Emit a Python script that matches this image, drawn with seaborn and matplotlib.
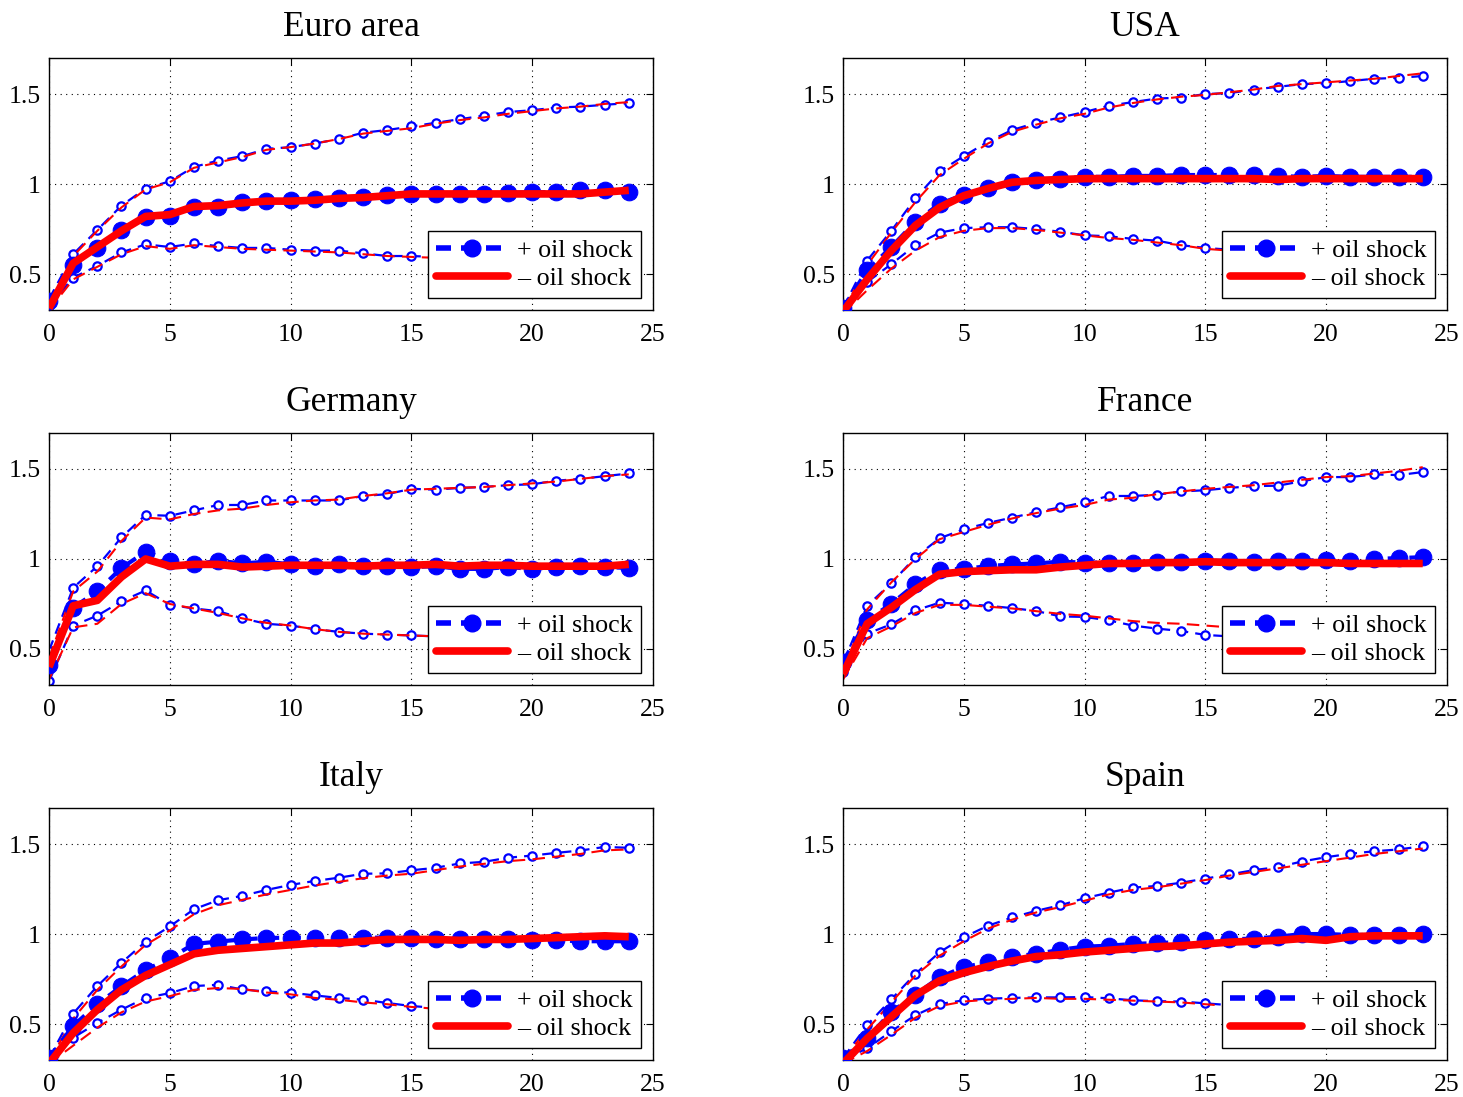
import numpy as np
import pandas as pd
import matplotlib
matplotlib.use("Agg")
import matplotlib.pyplot as plt
from matplotlib.lines import Line2D
import seaborn as sns

# ---------------- data ----------------
HORIZON = list(range(25))
TITLES = ["Euro area", "USA", "Germany", "France", "Italy", "Spain"]
LEGEND_LABELS = ["+ oil shock", "\u2013 oil shock"]
XTICKS = [0, 5, 10, 15, 20, 25]
YTICKS = [0.5, 1.0, 1.5]
YTICKLABELS = ["0.5", "1", "1.5"]

# Euro area
EA_POS_MED = [0.35, 0.55, 0.645, 0.745, 0.815, 0.825, 0.875, 0.875, 0.90, 0.905, 0.91, 0.915, 0.925, 0.93, 0.94,
              0.945, 0.945, 0.945, 0.945, 0.95, 0.955, 0.955, 0.965, 0.965, 0.955]
EA_NEG_MED = [0.31, 0.56, 0.65, 0.74, 0.82, 0.83, 0.875, 0.88, 0.895, 0.905, 0.905, 0.91, 0.92, 0.925, 0.935,
              0.945, 0.945, 0.945, 0.945, 0.945, 0.945, 0.945, 0.945, 0.955, 0.965]
EA_POS_UP = [0.36, 0.61, 0.745, 0.88, 0.975, 1.015, 1.095, 1.13, 1.155, 1.195, 1.205, 1.225, 1.25, 1.285, 1.30,
             1.32, 1.34, 1.36, 1.38, 1.40, 1.41, 1.425, 1.43, 1.44, 1.45]
EA_NEG_UP = [0.33, 0.60, 0.74, 0.87, 0.97, 1.01, 1.09, 1.12, 1.15, 1.19, 1.205, 1.225, 1.25, 1.28, 1.295,
             1.31, 1.335, 1.355, 1.37, 1.39, 1.405, 1.42, 1.43, 1.445, 1.455]
EA_POS_LO = [0.32, 0.48, 0.545, 0.62, 0.665, 0.65, 0.67, 0.655, 0.645, 0.645, 0.635, 0.63, 0.63, 0.615, 0.60,
             0.60, 0.595]
EA_NEG_LO = [0.30, 0.47, 0.54, 0.61, 0.655, 0.64, 0.66, 0.65, 0.64, 0.635, 0.63, 0.625, 0.62, 0.61, 0.60,
             0.595, 0.59]

# USA
US_POS_MED = [0.31, 0.52, 0.65, 0.79, 0.89, 0.94, 0.98, 1.01, 1.02, 1.03, 1.04, 1.04, 1.045, 1.045, 1.05,
              1.05, 1.05, 1.05, 1.045, 1.04, 1.045, 1.04, 1.04, 1.04, 1.04]
US_NEG_MED = [0.29, 0.47, 0.63, 0.77, 0.87, 0.935, 0.975, 1.01, 1.02, 1.025, 1.03, 1.03, 1.03, 1.03, 1.03,
              1.03, 1.03, 1.03, 1.025, 1.03, 1.03, 1.03, 1.03, 1.03, 1.03]
US_POS_UP = [0.31, 0.575, 0.74, 0.92, 1.07, 1.155, 1.235, 1.30, 1.34, 1.37, 1.40, 1.435, 1.455, 1.475, 1.48,
             1.50, 1.505, 1.525, 1.54, 1.555, 1.56, 1.572, 1.585, 1.59, 1.60]
US_NEG_UP = [0.29, 0.55, 0.73, 0.90, 1.05, 1.14, 1.225, 1.29, 1.33, 1.365, 1.39, 1.425, 1.45, 1.47, 1.485,
             1.495, 1.51, 1.525, 1.545, 1.555, 1.565, 1.575, 1.585, 1.60, 1.615]
US_POS_LO = [0.31, 0.455, 0.555, 0.66, 0.73, 0.755, 0.76, 0.76, 0.75, 0.735, 0.715, 0.71, 0.695, 0.685, 0.66,
             0.645, 0.635]
US_NEG_LO = [0.28, 0.41, 0.53, 0.63, 0.705, 0.74, 0.755, 0.755, 0.745, 0.73, 0.715, 0.70, 0.69, 0.675, 0.66,
             0.64, 0.63]

# Germany
DE_POS_MED = [0.41, 0.73, 0.82, 0.95, 1.04, 0.99, 0.97, 0.99, 0.975, 0.985, 0.97, 0.96, 0.97, 0.96, 0.96,
              0.955, 0.96, 0.945, 0.945, 0.955, 0.945, 0.955, 0.96, 0.955, 0.95]
DE_NEG_MED = [0.40, 0.74, 0.77, 0.90, 1.00, 0.96, 0.97, 0.97, 0.955, 0.96, 0.965, 0.965, 0.965, 0.96, 0.965,
              0.965, 0.97, 0.96, 0.965, 0.965, 0.96, 0.96, 0.96, 0.96, 0.97]
DE_POS_UP = [0.49, 0.84, 0.96, 1.12, 1.245, 1.24, 1.27, 1.30, 1.30, 1.325, 1.325, 1.325, 1.325, 1.35, 1.36,
             1.39, 1.385, 1.395, 1.40, 1.41, 1.415, 1.435, 1.445, 1.46, 1.475]
DE_NEG_UP = [0.45, 0.82, 0.93, 1.10, 1.23, 1.22, 1.25, 1.27, 1.28, 1.30, 1.315, 1.325, 1.33, 1.35, 1.365,
             1.385, 1.39, 1.395, 1.40, 1.41, 1.42, 1.43, 1.445, 1.46, 1.47]
DE_POS_LO = [0.32, 0.63, 0.685, 0.765, 0.825, 0.745, 0.725, 0.71, 0.67, 0.64, 0.63, 0.61, 0.595, 0.585, 0.58,
             0.575, 0.57]
DE_NEG_LO = [0.33, 0.62, 0.64, 0.75, 0.81, 0.75, 0.725, 0.70, 0.67, 0.645, 0.63, 0.61, 0.595, 0.585, 0.58,
             0.575, 0.57]

# France
FR_POS_MED = [0.43, 0.66, 0.75, 0.86, 0.94, 0.945, 0.96, 0.97, 0.975, 0.985, 0.98, 0.98, 0.98, 0.985, 0.985,
              0.99, 0.99, 0.985, 0.99, 0.99, 0.995, 0.99, 1.00, 1.005, 1.01]
FR_NEG_MED = [0.36, 0.64, 0.73, 0.83, 0.915, 0.93, 0.935, 0.94, 0.94, 0.955, 0.965, 0.975, 0.975, 0.98, 0.98,
              0.985, 0.98, 0.98, 0.98, 0.98, 0.98, 0.975, 0.975, 0.975, 0.975]
FR_POS_UP = [0.42, 0.74, 0.865, 1.01, 1.115, 1.165, 1.20, 1.23, 1.26, 1.287, 1.315, 1.35, 1.35, 1.357, 1.375,
             1.382, 1.395, 1.405, 1.407, 1.432, 1.455, 1.455, 1.47, 1.466, 1.483]
FR_NEG_UP = [0.38, 0.72, 0.87, 1.00, 1.11, 1.15, 1.19, 1.225, 1.255, 1.28, 1.30, 1.33, 1.34, 1.36, 1.375,
             1.39, 1.40, 1.41, 1.425, 1.44, 1.455, 1.46, 1.475, 1.49, 1.51]
FR_POS_LO = [0.37, 0.585, 0.637, 0.715, 0.757, 0.75, 0.74, 0.727, 0.711, 0.681, 0.678, 0.659, 0.63, 0.613, 0.60,
             0.578, 0.57]
FR_NEG_LO = [0.33, 0.56, 0.625, 0.70, 0.745, 0.745, 0.735, 0.725, 0.71, 0.695, 0.685, 0.67, 0.655, 0.645, 0.64,
             0.63, 0.62]

# Italy
IT_POS_MED = [0.31, 0.49, 0.61, 0.71, 0.80, 0.865, 0.945, 0.958, 0.97, 0.978, 0.98, 0.98, 0.978, 0.98, 0.98,
              0.977, 0.975, 0.97, 0.97, 0.97, 0.965, 0.965, 0.96, 0.96, 0.96]
IT_NEG_MED = [0.28, 0.45, 0.58, 0.69, 0.77, 0.83, 0.89, 0.91, 0.92, 0.93, 0.94, 0.95, 0.95, 0.96, 0.97,
              0.97, 0.97, 0.965, 0.97, 0.97, 0.975, 0.98, 0.985, 0.99, 0.985]
IT_POS_UP = [0.31, 0.558, 0.711, 0.84, 0.958, 1.042, 1.138, 1.188, 1.212, 1.245, 1.273, 1.295, 1.313, 1.335, 1.337,
             1.354, 1.368, 1.392, 1.401, 1.424, 1.436, 1.451, 1.464, 1.484, 1.479]
IT_NEG_UP = [0.29, 0.53, 0.69, 0.82, 0.94, 1.02, 1.11, 1.16, 1.19, 1.22, 1.245, 1.27, 1.29, 1.31, 1.325,
             1.335, 1.355, 1.375, 1.39, 1.405, 1.415, 1.43, 1.445, 1.465, 1.47]
IT_POS_LO = [0.31, 0.424, 0.506, 0.58, 0.645, 0.672, 0.711, 0.718, 0.692, 0.681, 0.674, 0.659, 0.645, 0.635, 0.617,
             0.60, 0.59]
IT_NEG_LO = [0.28, 0.38, 0.48, 0.565, 0.625, 0.655, 0.69, 0.70, 0.695, 0.675, 0.665, 0.645, 0.635, 0.62, 0.61,
             0.595, 0.585]

# Spain
ES_POS_MED = [0.31, 0.42, 0.567, 0.663, 0.76, 0.816, 0.843, 0.875, 0.889, 0.913, 0.93, 0.935, 0.945, 0.95, 0.955,
              0.965, 0.97, 0.975, 0.985, 1.00, 1.00, 0.995, 0.995, 0.995, 1.00]
ES_NEG_MED = [0.28, 0.42, 0.54, 0.66, 0.74, 0.785, 0.82, 0.85, 0.875, 0.885, 0.90, 0.91, 0.92, 0.93, 0.935,
              0.945, 0.955, 0.96, 0.965, 0.975, 0.965, 0.985, 0.99, 0.99, 0.99]
ES_POS_UP = [0.31, 0.494, 0.637, 0.779, 0.899, 0.982, 1.046, 1.092, 1.129, 1.16, 1.199, 1.23, 1.258, 1.267, 1.285,
             1.308, 1.331, 1.355, 1.372, 1.403, 1.427, 1.446, 1.46, 1.47, 1.488]
ES_NEG_UP = [0.30, 0.47, 0.62, 0.77, 0.88, 0.96, 1.03, 1.08, 1.12, 1.15, 1.185, 1.22, 1.245, 1.26, 1.28,
             1.30, 1.325, 1.345, 1.365, 1.385, 1.405, 1.425, 1.445, 1.46, 1.475]
ES_POS_LO = [0.30, 0.365, 0.46, 0.549, 0.611, 0.632, 0.641, 0.645, 0.648, 0.648, 0.65, 0.643, 0.632, 0.627, 0.625,
             0.615, 0.605]
ES_NEG_LO = [0.28, 0.35, 0.44, 0.535, 0.60, 0.625, 0.635, 0.64, 0.645, 0.64, 0.64, 0.635, 0.63, 0.625, 0.62,
             0.61, 0.60]

PANELS = [
    (EA_POS_MED, EA_NEG_MED, EA_POS_UP, EA_NEG_UP, EA_POS_LO, EA_NEG_LO),
    (US_POS_MED, US_NEG_MED, US_POS_UP, US_NEG_UP, US_POS_LO, US_NEG_LO),
    (DE_POS_MED, DE_NEG_MED, DE_POS_UP, DE_NEG_UP, DE_POS_LO, DE_NEG_LO),
    (FR_POS_MED, FR_NEG_MED, FR_POS_UP, FR_NEG_UP, FR_POS_LO, FR_NEG_LO),
    (IT_POS_MED, IT_NEG_MED, IT_POS_UP, IT_NEG_UP, IT_POS_LO, IT_NEG_LO),
    (ES_POS_MED, ES_NEG_MED, ES_POS_UP, ES_NEG_UP, ES_POS_LO, ES_NEG_LO),
]

# ---------------- style ----------------
sns.set_theme(style="white")
plt.rcParams["font.family"] = ["Liberation Serif", "DejaVu Serif"]
plt.rcParams["axes.unicode_minus"] = False
plt.rcParams["text.color"] = "black"

BLUE = "#0000ff"
RED = "#ff0000"

fig = plt.figure(figsize=(14.63, 10.97), dpi=100)

lefts = [0.0335, 0.5762]
bottoms = [0.7174, 0.3756, 0.0337]
w, h = 0.4128, 0.2297


def series(xs, ys):
    return pd.DataFrame({"h": xs[:len(ys)], "v": ys})


for i, (title, arrs) in enumerate(zip(TITLES, PANELS)):
    pos_med, neg_med, pos_up, neg_up, pos_lo, neg_lo = arrs
    r, c = divmod(i, 2)
    ax = fig.add_axes([lefts[c], bottoms[r], w, h])

    band_kw = dict(color=BLUE, linewidth=1.6, dashes=(5, 3.2), marker="o", markersize=6,
                   markerfacecolor="white", markeredgecolor=BLUE, markeredgewidth=1.6, zorder=2)
    for arr in (pos_up, pos_lo):
        d = series(HORIZON, arr)
        sns.lineplot(data=d, x="h", y="v", ax=ax, errorbar=None, estimator=None, **band_kw)
    rband_kw = dict(color=RED, linewidth=1.5, dashes=(6, 3.5), zorder=2.5)
    for arr in (neg_up, neg_lo):
        d = series(HORIZON, arr)
        sns.lineplot(data=d, x="h", y="v", ax=ax, errorbar=None, estimator=None, **rband_kw)

    d = series(HORIZON, pos_med)
    sns.lineplot(data=d, x="h", y="v", ax=ax, errorbar=None, estimator=None, color=BLUE,
                 linewidth=3.0, dashes=(3, 2.2), marker="o", markersize=12,
                 markerfacecolor=BLUE, markeredgecolor=BLUE, zorder=3)
    d = series(HORIZON, neg_med)
    sns.lineplot(data=d, x="h", y="v", ax=ax, errorbar=None, estimator=None, color=RED,
                 linewidth=5.5, zorder=4, solid_capstyle="butt")

    ax.set_xlim(0, 25)
    ax.set_ylim(0.3, 1.7)
    ax.set_xticks(XTICKS)
    ax.set_xticklabels([str(t) for t in XTICKS])
    ax.set_yticks(YTICKS)
    ax.set_yticklabels(YTICKLABELS)
    ax.set_xlabel("")
    ax.set_ylabel("")
    ax.tick_params(direction="in", top=True, right=True, length=5, width=0.8,
                   labelsize=18.5, pad=6, colors="black")
    ax.tick_params(axis="x", pad=10)
    ax.grid(True, color="black", linestyle=(0, (1, 4)), linewidth=0.8)
    for s in ax.spines.values():
        s.set_color("black")
        s.set_linewidth(1.0)
    ax.set_title(title, fontsize=25.5, pad=16, color="black")

    handles = [
        Line2D([0], [0], color=BLUE, linewidth=4, dashes=(2.7, 1.8), marker="o", markersize=12,
               markerfacecolor=BLUE, markeredgecolor=BLUE),
        Line2D([0], [0], color=RED, linewidth=5.5),
    ]
    leg = ax.legend(handles, LEGEND_LABELS, loc="lower right", bbox_to_anchor=(0.98, 0.048),
                    borderaxespad=0, fontsize=18.7, frameon=True, fancybox=False, framealpha=1,
                    edgecolor="black", handlelength=2.8, handletextpad=0.35, borderpad=0.3,
                    labelspacing=0.2, numpoints=1)
    leg.get_frame().set_linewidth(1.0)
    for t in leg.get_texts():
        t.set_color("black")
    leg.set_zorder(10)

fig.savefig("out.png", dpi=100, facecolor="white")
